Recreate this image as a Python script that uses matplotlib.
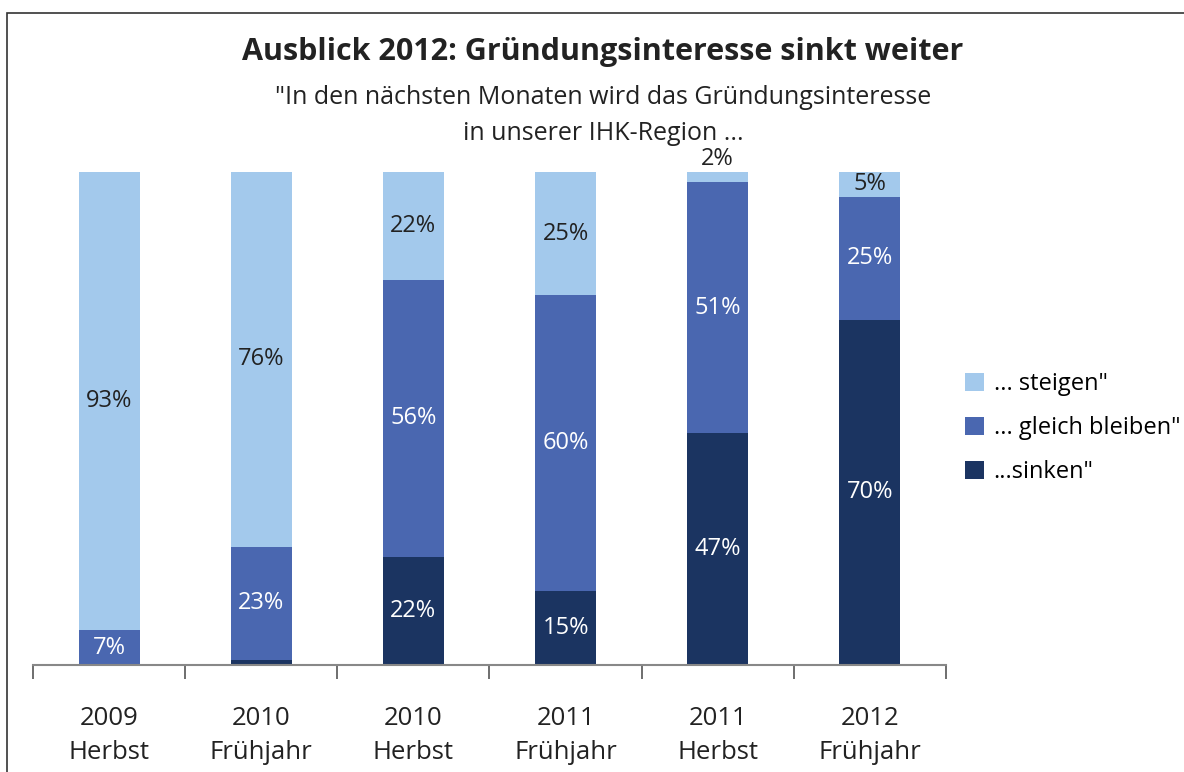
import numpy as np
import matplotlib.pyplot as plt
from matplotlib.patches import Rectangle

# data (percent)
years = ['2009', '2010', '2010', '2011', '2011', '2012']
seasons = ['Herbst', 'Frühjahr', 'Herbst', 'Frühjahr', 'Herbst', 'Frühjahr']
sinken = [0, 1, 22, 15, 47, 70]
gleich = [7, 23, 56, 60, 51, 25]
steigen = [93, 76, 22, 25, 2, 5]

c_steigen = '#A3C9EC'
c_gleich = '#4A67B0'
c_sinken = '#1B3461'

plt.rcParams['font.family'] = ['Open Sans', 'DejaVu Sans']

fig = plt.figure(figsize=(11.84, 7.72), dpi=100)
W, H = 1184, 772
ax = fig.add_axes([33 / W, 1 - 665 / H, (946 - 33) / W, (665 - 172) / H])

x = np.arange(len(years))
bw = 0.4
sinken = np.array(sinken)
gleich = np.array(gleich)
steigen = np.array(steigen)

ax.bar(x, sinken, bw, color=c_sinken, label='...sinken"')
ax.bar(x, gleich, bw, bottom=sinken, color=c_gleich, label='... gleich bleiben"')
ax.bar(x, steigen, bw, bottom=sinken + gleich, color=c_steigen, label='... steigen"')

fs = 17
for i in range(len(x)):
    if sinken[i] >= 5:
        ax.text(x[i], sinken[i] / 2, f'{sinken[i]}%', ha='center', va='center',
                color='white', fontsize=fs)
    if gleich[i] >= 5:
        ax.text(x[i], sinken[i] + gleich[i] / 2, f'{gleich[i]}%', ha='center',
                va='center', color='white', fontsize=fs)
    top = sinken[i] + gleich[i]
    if steigen[i] >= 4:
        ax.text(x[i], top + steigen[i] / 2, f'{steigen[i]}%', ha='center',
                va='center', color='#222222', fontsize=fs)
    else:
        ax.text(x[i], 100.3, f'{steigen[i]}%', ha='center', va='bottom',
                color='#222222', fontsize=fs)

ax.set_xlim(-0.5, len(x) - 0.5)
ax.set_ylim(0, 100)
for s in ['top', 'right', 'left']:
    ax.spines[s].set_visible(False)
ax.spines['bottom'].set_color('#888888')
ax.spines['bottom'].set_linewidth(1.5)
ax.set_yticks([])
ax.set_xticks(np.arange(-0.5, len(x), 1.0))
ax.set_xticklabels([])
ax.tick_params(axis='x', length=10, width=1.2, color='#555555')
for i in range(len(x)):
    ax.text(x[i], -10.8, years[i], ha='center', va='center', fontsize=18.5, color='#222222')
    ax.text(x[i], -17.8, seasons[i], ha='center', va='center', fontsize=18.5, color='#222222')

handles, labels = ax.get_legend_handles_labels()
fig.legend(handles[::-1], labels[::-1], loc='center left',
           bbox_to_anchor=(944 / W, 1 - 428 / H), frameon=False, fontsize=17,
           handlelength=0.8, handleheight=0.8, handletextpad=0.4, labelspacing=0.85)

fig.text(603 / W, 1 - 52 / H, 'Ausblick 2012: Gründungsinteresse sinkt weiter',
         ha='center', va='center', fontsize=22, fontweight='bold', color='#222222')
fig.text(603 / W, 1 - 97 / H, '"In den nächsten Monaten wird das Gründungsinteresse',
         ha='center', va='center', fontsize=18, color='#222222')
fig.text(603 / W, 1 - 133 / H, 'in unserer IHK-Region ...',
         ha='center', va='center', fontsize=18, color='#222222')

fig.patches.append(Rectangle((7 / W, -0.1), 1.2, 1 - 13 / H + 0.1, transform=fig.transFigure,
                             fill=False, edgecolor='#333333', linewidth=1.2))

fig.savefig('out.png', dpi=100)
